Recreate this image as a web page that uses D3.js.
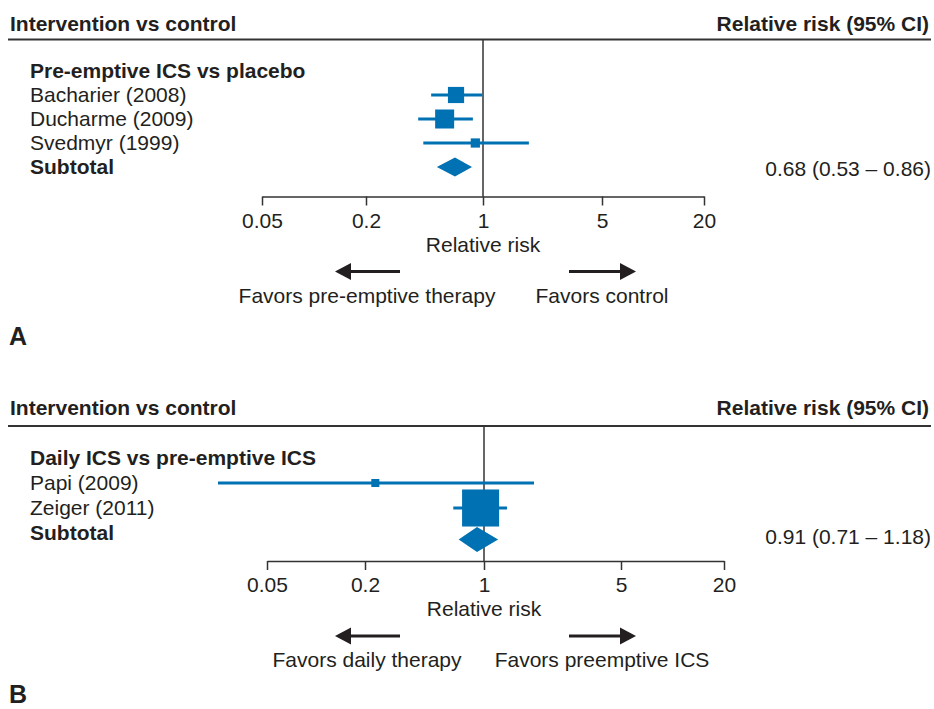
<!DOCTYPE html>
<html lang="en">

<head>
  <meta charset="UTF-8">
  <title>Relative risk forest plots</title>
  <style>
    * {
      margin: 0;
    }

    body {
      background: #fff;
      font-family: "Liberation Sans", Arial, Helvetica, sans-serif;
    }

    svg text {
      fill: #231f20;
      font-size: 21px;
    }

    .bold {
      font-weight: bold;
    }
  </style>
</head>

<body>
  <div id="chart"></div>
  <script src="https://cdnjs.cloudflare.com/ajax/libs/d3/7.8.5/d3.min.js"></script>
  <script type="text/javascript">
    // shared tick values
    const ticks = [0.05, 0.2, 1, 5, 20];
    const tickLabels = ['0.05', '0.2', '1', '5', '20'];

    // panel A - pre-emptive ICS vs placebo
    const studiesA = ['Bacharier (2008)', 'Ducharme (2009)', 'Svedmyr (1999)'];
    const rrA = [0.69, 0.59, 0.90];
    const lowA = [0.49, 0.41, 0.44];
    const highA = [0.99, 0.87, 1.86];
    const weightA = [37, 51, 12];
    const totalA = [0.68, 0.53, 0.86];

    // panel B - daily ICS vs pre-emptive ICS
    const studiesB = ['Papi (2009)', 'Zeiger (2011)'];
    const rrB = [0.23, 0.955];
    const lowB = [0.025, 0.66];
    const highB = [1.80, 1.31];
    const weightB = [4.5, 95.5];
    const totalB = [0.91, 0.71, 1.18];

    const blue = '#0071b3';
    const ink = '#333';

    const svg = d3.select('#chart')
      .append('svg')
      .attr('width', 934)
      .attr('height', 709);

    function drawPanel(p) {
      const g = svg.append('g');
      const x = d3.scaleLog().domain(ticks).range(p.tickX);
      const size = d3.scaleSqrt().domain([0, 100]).range([0, p.maxBox]);
      const row = d3.scaleLinear().domain([0, 1]).range([p.firstRow, p.firstRow + p.rowStep]);
      const n = p.studies.length;

      // header
      g.append('text').attr('class', 'bold')
        .attr('x', 10).attr('y', p.headerY)
        .text('Intervention vs control');
      g.append('text').attr('class', 'bold')
        .attr('x', 929).attr('y', p.headerY)
        .attr('text-anchor', 'end')
        .text('Relative risk (95% CI)');
      g.append('line')
        .attr('x1', 8).attr('x2', 931)
        .attr('y1', p.lineY).attr('y2', p.lineY)
        .attr('stroke', ink).attr('stroke-width', 2);

      // line of no effect
      g.append('line')
        .attr('x1', x(1)).attr('x2', x(1))
        .attr('y1', p.lineY).attr('y2', p.axisY)
        .attr('stroke', ink).attr('stroke-width', 1.5);

      // row labels
      g.append('text').attr('class', 'bold')
        .attr('x', 30).attr('y', row(0) + 7)
        .text(p.heading);
      g.selectAll('.study')
        .data(p.studies)
        .enter().append('text')
        .attr('class', 'study')
        .attr('x', 30).attr('y', (d, i) => row(i + 1) + 7)
        .text(d => d);
      g.append('text').attr('class', 'bold')
        .attr('x', 30).attr('y', row(n + 1) + 7)
        .text('Subtotal');

      const rows = p.studies.map((s, i) => ({
        rr: p.rr[i], lo: p.lo[i], hi: p.hi[i], w: p.weight[i], y: row(i + 1)
      }));

      // confidence intervals
      g.selectAll('.ci')
        .data(rows)
        .enter().append('line')
        .attr('x1', d => x(d.lo)).attr('x2', d => x(d.hi))
        .attr('y1', d => d.y).attr('y2', d => d.y)
        .attr('stroke', blue).attr('stroke-width', 3);

      // weighted boxes
      g.selectAll('.box')
        .data(rows)
        .enter().append('rect')
        .attr('x', d => x(d.rr) - size(d.w) / 2)
        .attr('y', d => d.y - size(d.w) / 2)
        .attr('width', d => size(d.w))
        .attr('height', d => size(d.w))
        .attr('fill', blue);

      // pooled diamond
      const dy = row(n + 1) + p.diamondShift;
      const t = p.total;
      g.append('path')
        .attr('d', `M${x(t[1])},${dy}L${x(t[0])},${dy - p.diamondH}L${x(t[2])},${dy}L${x(t[0])},${dy + p.diamondH}Z`)
        .attr('fill', blue);
      g.append('text')
        .attr('x', 931).attr('y', row(n + 1) + p.valueShift)
        .attr('text-anchor', 'end')
        .text(`${t[0].toFixed(2)} (${t[1].toFixed(2)} \u2013 ${t[2].toFixed(2)})`);

      // axis
      const axis = g.append('g')
        .attr('transform', `translate(0,${p.axisY})`)
        .call(d3.axisBottom(x)
          .tickValues(ticks)
          .tickFormat((d, i) => tickLabels[i])
          .tickSize(9)
          .tickSizeOuter(0)
          .tickPadding(7.5));
      axis.select('.domain').attr('stroke', ink).attr('stroke-width', 1.5);
      axis.selectAll('.tick line').attr('stroke', ink).attr('stroke-width', 1.5);
      axis.selectAll('.tick text')
        .attr('font-size', 21)
        .attr('font-family', '"Liberation Sans", Arial, sans-serif')
        .style('fill', '#231f20');

      g.append('text')
        .attr('x', x(1)).attr('y', p.axisY + 55)
        .attr('text-anchor', 'middle')
        .text('Relative risk');

      // direction arrows
      const ay = p.axisY + 75;
      g.append('line')
        .attr('x1', 400).attr('x2', 348).attr('y1', ay).attr('y2', ay)
        .attr('stroke', '#231f20').attr('stroke-width', 3);
      g.append('path')
        .attr('d', `M335,${ay}L351,${ay - 8.5}L351,${ay + 8.5}Z`)
        .attr('fill', '#231f20');
      g.append('line')
        .attr('x1', 569).attr('x2', 622).attr('y1', ay).attr('y2', ay)
        .attr('stroke', '#231f20').attr('stroke-width', 3);
      g.append('path')
        .attr('d', `M636,${ay}L620,${ay - 8.5}L620,${ay + 8.5}Z`)
        .attr('fill', '#231f20');

      g.append('text')
        .attr('x', 367).attr('y', ay + 31)
        .attr('text-anchor', 'middle')
        .text(p.favorsLeft);
      g.append('text')
        .attr('x', 602).attr('y', ay + 31)
        .attr('text-anchor', 'middle')
        .text(p.favorsRight);

      g.append('text').attr('class', 'bold')
        .attr('x', 9).attr('y', p.letterY)
        .style('font-size', '25px')
        .text(p.letter);
    }

    drawPanel({
      letter: 'A', letterY: 345,
      heading: 'Pre-emptive ICS vs placebo',
      studies: studiesA, rr: rrA, lo: lowA, hi: highA, weight: weightA, total: totalA,
      tickX: [262, 366, 483, 602, 704],
      headerY: 31, lineY: 39.5, firstRow: 71, rowStep: 24,
      axisY: 196.5, maxBox: 26.6, diamondH: 9.5, diamondShift: 0, valueShift: 9,
      favorsLeft: 'Favors pre-emptive therapy', favorsRight: 'Favors control'
    });

    drawPanel({
      letter: 'B', letterY: 703,
      heading: 'Daily ICS vs pre-emptive ICS',
      studies: studiesB, rr: rrB, lo: lowB, hi: highB, weight: weightB, total: totalB,
      tickX: [267, 365, 484, 621, 724],
      headerY: 415, lineY: 426, firstRow: 458, rowStep: 25,
      axisY: 561, maxBox: 37.9, diamondH: 12.5, diamondShift: 6.5, valueShift: 11,
      favorsLeft: 'Favors daily therapy', favorsRight: 'Favors preemptive ICS'
    });
  </script>
</body>

</html>
